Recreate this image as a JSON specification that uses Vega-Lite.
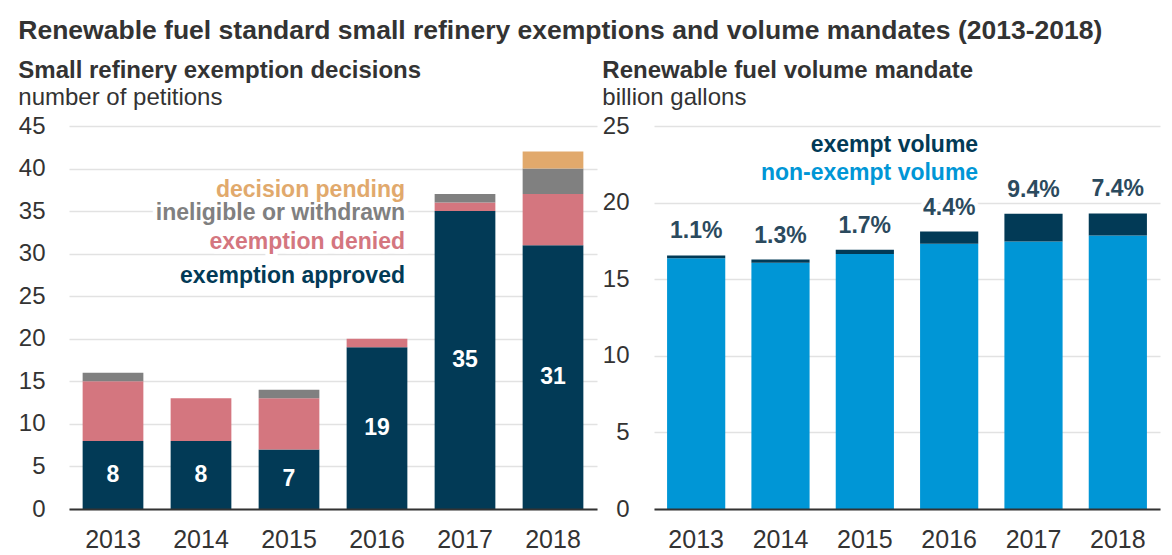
{
  "$schema": "https://vega.github.io/schema/vega-lite/v6.json",
  "padding": {"left": 18, "top": 17, "right": 4, "bottom": 2},
  "background": "white",
  "title": {
    "text": "Renewable fuel standard small refinery exemptions and volume mandates (2013-2018)",
    "anchor": "start", "frame": "bounds", "fontSize": 26.5, "fontWeight": "bold",
    "font": "Liberation Sans", "color": "#333333", "offset": 15
  },
  "config": {
    "view": {"stroke": null},
    "font": "Liberation Sans",
    "title": {"font": "Liberation Sans"}
  },
  "spacing": 5,
  "resolve": {"scale": {"color": "independent"}},
  "hconcat": [
    {
      "width": 528,
      "height": 383,
      "title": {
        "text": "Small refinery exemption decisions",
        "subtitle": "number of petitions",
        "anchor": "start", "frame": "bounds",
        "fontSize": 24, "fontWeight": "bold", "color": "#333333",
        "subtitleFontSize": 24, "subtitleColor": "#333333", "subtitleFont": "Liberation Sans",
        "subtitlePadding": 3, "offset": 4
      },
      "data": {"values": [
        {"year": 2013, "category": "exemption approved", "seq": 1, "count": 8},
        {"year": 2013, "category": "exemption denied", "seq": 2, "count": 7},
        {"year": 2013, "category": "ineligible or withdrawn", "seq": 3, "count": 1},
        {"year": 2014, "category": "exemption approved", "seq": 1, "count": 8},
        {"year": 2014, "category": "exemption denied", "seq": 2, "count": 5},
        {"year": 2015, "category": "exemption approved", "seq": 1, "count": 7},
        {"year": 2015, "category": "exemption denied", "seq": 2, "count": 6},
        {"year": 2015, "category": "ineligible or withdrawn", "seq": 3, "count": 1},
        {"year": 2016, "category": "exemption approved", "seq": 1, "count": 19},
        {"year": 2016, "category": "exemption denied", "seq": 2, "count": 1},
        {"year": 2017, "category": "exemption approved", "seq": 1, "count": 35},
        {"year": 2017, "category": "exemption denied", "seq": 2, "count": 1},
        {"year": 2017, "category": "ineligible or withdrawn", "seq": 3, "count": 1},
        {"year": 2018, "category": "exemption approved", "seq": 1, "count": 31},
        {"year": 2018, "category": "exemption denied", "seq": 2, "count": 6},
        {"year": 2018, "category": "ineligible or withdrawn", "seq": 3, "count": 3},
        {"year": 2018, "category": "decision pending", "seq": 4, "count": 2}
      ]},
      "encoding": {
        "x": {
          "field": "year", "type": "ordinal",
          "scale": {"paddingInner": 0.31, "paddingOuter": 0.155},
          "axis": {
            "title": null, "labelAngle": 0, "labelFontSize": 25, "labelColor": "#333333",
            "ticks": false, "labelPadding": 18, "domainColor": "#333333", "domainWidth": 2,
            "grid": false, "zindex": 1
          }
        }
      },
      "layer": [
        {
          "mark": {"type": "bar"},
          "encoding": {
            "y": {
              "field": "count", "type": "quantitative", "stack": "zero",
              "scale": {"domain": [0, 45], "nice": false},
              "axis": {
                "title": null, "values": [0, 5, 10, 15, 20, 25, 30, 35, 40, 45],
                "labelFontSize": 24, "labelColor": "#333333", "ticks": false, "domain": false,
                "labelPadding": 24, "gridColor": "#e2e2e2", "gridWidth": 1.5
              }
            },
            "color": {
              "field": "category", "type": "nominal", "legend": null,
              "scale": {
                "domain": ["exemption approved", "exemption denied", "ineligible or withdrawn", "decision pending"],
                "range": ["#023a56", "#d4767f", "#808080", "#e1a96c"]
              }
            },
            "order": {"field": "seq", "type": "quantitative"}
          }
        },
        {
          "transform": [
            {"filter": "datum.category === 'exemption approved'"},
            {"calculate": "datum.count / 2", "as": "mid"}
          ],
          "mark": {"type": "text", "color": "white", "fontWeight": "bold", "fontSize": 23, "baseline": "middle"},
          "encoding": {
            "y": {"field": "mid", "type": "quantitative"},
            "text": {"field": "count", "type": "quantitative"}
          }
        },
        {
          "data": {"values": [{"category": "decision pending"}]},
          "mark": {"type": "text", "align": "right", "baseline": "alphabetic", "dx": 28, "fontWeight": "bold", "fontSize": 23, "stroke": "white", "strokeWidth": 9, "fill": "white"},
          "encoding": {"y": {"datum": 36.7}, "x": {"datum": 2016, "type": "ordinal"}, "text": {"field": "category"}}
        },
        {
          "data": {"values": [{"category": "ineligible or withdrawn"}]},
          "mark": {"type": "text", "align": "right", "baseline": "alphabetic", "dx": 28, "fontWeight": "bold", "fontSize": 23, "stroke": "white", "strokeWidth": 9, "fill": "white"},
          "encoding": {"y": {"datum": 33.9}, "x": {"datum": 2016, "type": "ordinal"}, "text": {"field": "category"}}
        },
        {
          "data": {"values": [{"category": "exemption denied"}]},
          "mark": {"type": "text", "align": "right", "baseline": "alphabetic", "dx": 28, "fontWeight": "bold", "fontSize": 23, "stroke": "white", "strokeWidth": 9, "fill": "white"},
          "encoding": {"y": {"datum": 30.5}, "x": {"datum": 2016, "type": "ordinal"}, "text": {"field": "category"}}
        },
        {
          "data": {"values": [{"category": "exemption approved"}]},
          "mark": {"type": "text", "align": "right", "baseline": "alphabetic", "dx": 28, "fontWeight": "bold", "fontSize": 23, "stroke": "white", "strokeWidth": 9, "fill": "white"},
          "encoding": {"y": {"datum": 26.6}, "x": {"datum": 2016, "type": "ordinal"}, "text": {"field": "category"}}
        },
        {
          "data": {"values": [{"category": "decision pending"}]},
          "mark": {"type": "text", "align": "right", "baseline": "alphabetic", "dx": 28, "fontWeight": "bold", "fontSize": 23},
          "encoding": {"y": {"datum": 36.7}, "x": {"datum": 2016, "type": "ordinal"}, "text": {"field": "category"}, "color": {"field": "category", "type": "nominal"}}
        },
        {
          "data": {"values": [{"category": "ineligible or withdrawn"}]},
          "mark": {"type": "text", "align": "right", "baseline": "alphabetic", "dx": 28, "fontWeight": "bold", "fontSize": 23},
          "encoding": {"y": {"datum": 33.9}, "x": {"datum": 2016, "type": "ordinal"}, "text": {"field": "category"}, "color": {"field": "category", "type": "nominal"}}
        },
        {
          "data": {"values": [{"category": "exemption denied"}]},
          "mark": {"type": "text", "align": "right", "baseline": "alphabetic", "dx": 28, "fontWeight": "bold", "fontSize": 23},
          "encoding": {"y": {"datum": 30.5}, "x": {"datum": 2016, "type": "ordinal"}, "text": {"field": "category"}, "color": {"field": "category", "type": "nominal"}}
        },
        {
          "data": {"values": [{"category": "exemption approved"}]},
          "mark": {"type": "text", "align": "right", "baseline": "alphabetic", "dx": 28, "fontWeight": "bold", "fontSize": 23},
          "encoding": {"y": {"datum": 26.6}, "x": {"datum": 2016, "type": "ordinal"}, "text": {"field": "category"}, "color": {"field": "category", "type": "nominal"}}
        }
      ]
    },
    {
      "width": 506,
      "height": 383,
      "title": {
        "text": "Renewable fuel volume mandate",
        "subtitle": "billion gallons",
        "anchor": "start", "frame": "bounds",
        "fontSize": 24, "fontWeight": "bold", "color": "#333333",
        "subtitleFontSize": 24, "subtitleColor": "#333333", "subtitleFont": "Liberation Sans",
        "subtitlePadding": 3, "offset": 4
      },
      "data": {"values": [
        {"year": 2013, "type": "non-exempt volume", "seq": 1, "volume": 16.37},
        {"year": 2013, "type": "exempt volume", "seq": 2, "volume": 0.18},
        {"year": 2014, "type": "non-exempt volume", "seq": 1, "volume": 16.07},
        {"year": 2014, "type": "exempt volume", "seq": 2, "volume": 0.21},
        {"year": 2015, "type": "non-exempt volume", "seq": 1, "volume": 16.64},
        {"year": 2015, "type": "exempt volume", "seq": 2, "volume": 0.29},
        {"year": 2016, "type": "non-exempt volume", "seq": 1, "volume": 17.31},
        {"year": 2016, "type": "exempt volume", "seq": 2, "volume": 0.8},
        {"year": 2017, "type": "non-exempt volume", "seq": 1, "volume": 17.46},
        {"year": 2017, "type": "exempt volume", "seq": 2, "volume": 1.82},
        {"year": 2018, "type": "non-exempt volume", "seq": 1, "volume": 17.86},
        {"year": 2018, "type": "exempt volume", "seq": 2, "volume": 1.43}
      ]},
      "encoding": {
        "x": {
          "field": "year", "type": "ordinal",
          "scale": {"paddingInner": 0.31, "paddingOuter": 0.155},
          "axis": {
            "title": null, "labelAngle": 0, "labelFontSize": 25, "labelColor": "#333333",
            "ticks": false, "labelPadding": 18, "domainColor": "#333333", "domainWidth": 2,
            "grid": false, "zindex": 1
          }
        }
      },
      "layer": [
        {
          "mark": {"type": "bar"},
          "encoding": {
            "y": {
              "field": "volume", "type": "quantitative", "stack": "zero",
              "scale": {"domain": [0, 25], "nice": false},
              "axis": {
                "title": null, "values": [0, 5, 10, 15, 20, 25],
                "labelFontSize": 24, "labelColor": "#333333", "ticks": false, "domain": false,
                "labelPadding": 25, "gridColor": "#e2e2e2", "gridWidth": 1.5
              }
            },
            "color": {
              "field": "type", "type": "nominal", "legend": null,
              "scale": {
                "domain": ["non-exempt volume", "exempt volume"],
                "range": ["#0096d6", "#023a56"]
              }
            },
            "order": {"field": "seq", "type": "quantitative"}
          }
        },
        {
          "data": {"values": [
            {"year": 2013, "total": 16.55, "pct": "1.1%"},
            {"year": 2014, "total": 16.28, "pct": "1.3%"},
            {"year": 2015, "total": 16.93, "pct": "1.7%"},
            {"year": 2016, "total": 18.11, "pct": "4.4%"},
            {"year": 2017, "total": 19.28, "pct": "9.4%"},
            {"year": 2018, "total": 19.29, "pct": "7.4%"}
          ]},
          "layer": [
            {
              "mark": {"type": "text", "fontWeight": "bold", "fontSize": 23, "baseline": "alphabetic", "dy": -17, "stroke": "white", "strokeWidth": 9, "fill": "white"},
              "encoding": {"y": {"field": "total", "type": "quantitative"}, "text": {"field": "pct"}}
            },
            {
              "mark": {"type": "text", "fontWeight": "bold", "fontSize": 23, "baseline": "alphabetic", "dy": -17, "color": "#2b4a5e"},
              "encoding": {"y": {"field": "total", "type": "quantitative"}, "text": {"field": "pct"}}
            }
          ]
        },
        {
          "data": {"values": [{"type": "exempt volume"}]},
          "mark": {"type": "text", "align": "right", "baseline": "alphabetic", "dx": 29, "fontWeight": "bold", "fontSize": 23},
          "encoding": {"y": {"datum": 23.3}, "x": {"datum": 2016, "type": "ordinal"}, "text": {"field": "type"}, "color": {"field": "type", "type": "nominal"}}
        },
        {
          "data": {"values": [{"type": "non-exempt volume"}]},
          "mark": {"type": "text", "align": "right", "baseline": "alphabetic", "dx": 29, "fontWeight": "bold", "fontSize": 23},
          "encoding": {"y": {"datum": 21.45}, "x": {"datum": 2016, "type": "ordinal"}, "text": {"field": "type"}, "color": {"field": "type", "type": "nominal"}}
        }
      ]
    }
  ]
}
